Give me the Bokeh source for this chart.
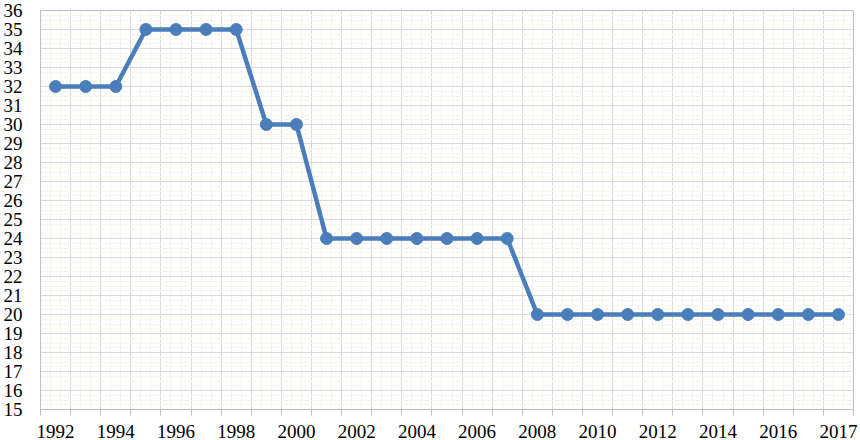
from bokeh.plotting import figure
from bokeh.models import FixedTicker, Range1d, ColumnDataSource
from bokeh.embed import file_html
from bokeh.resources import INLINE

# ---- data ----
values = [32, 32, 32, 35, 35, 35, 35, 30, 30, 24, 24, 24, 24, 24, 24, 24,
          20, 20, 20, 20, 20, 20, 20, 20, 20, 20, 20]
tick_labels = ["1992", "1994", "1996", "1998", "2000", "2002", "2004",
               "2006", "2008", "2010", "2012", "2014", "2016", "2017"]
y_ticks = list(range(15, 37))

n = len(values)
xs = list(range(n))
src = ColumnDataSource(data=dict(x=xs, y=values))

FONT = "Liberation Serif"
GRID = "#d9d9d9"
AXIS = "#bfbfbf"
BLUE = "#4A7EBB"

p = figure(width=860, height=440, output_backend="svg", toolbar_location=None,
           x_range=Range1d(-0.5, n - 0.5), y_range=Range1d(15, 36),
           min_border_left=39, min_border_right=7, min_border_top=10,
           min_border_bottom=0)
p.background_fill_color = "white"
p.border_fill_color = "white"
p.outline_line_color = AXIS

# x axis: labels at category centres, tick marks at category boundaries
label_pos = [2 * i for i in range(len(tick_labels))]
bounds = [i - 0.5 for i in range(n + 1)]
p.xaxis.ticker = FixedTicker(ticks=label_pos, minor_ticks=bounds)
p.xaxis.major_label_overrides = {pos: lab for pos, lab in zip(label_pos, tick_labels)}
p.xaxis.major_tick_out = 0
p.xaxis.major_tick_in = 0
p.xaxis.minor_tick_out = 6
p.xaxis.minor_tick_in = 0
p.xaxis.minor_tick_line_color = AXIS
p.xaxis.axis_line_color = AXIS
p.xaxis.major_label_standoff = 9
p.xaxis.major_label_text_font = FONT
p.xaxis.major_label_text_font_size = "19px"
p.xaxis.major_label_text_color = "black"

# y axis
p.yaxis.ticker = FixedTicker(ticks=y_ticks)
p.yaxis.major_tick_out = 0
p.yaxis.major_tick_in = 0
p.yaxis.minor_tick_line_color = None
p.yaxis.axis_line_color = AXIS
p.yaxis.major_label_standoff = 18
p.yaxis.major_label_text_font = FONT
p.yaxis.major_label_text_font_size = "19px"
p.yaxis.major_label_text_color = "black"

# grids
minor_x = []
for b in bounds[:-1]:
    minor_x += [b + 1 / 3, b + 2 / 3]
p.xgrid.ticker = FixedTicker(ticks=bounds, minor_ticks=minor_x)
p.xgrid.grid_line_color = GRID
p.xgrid.minor_grid_line_color = "#f3f3ef"

minor_y = [15 + k * 0.25 for k in range(0, 85)]
p.ygrid.ticker = FixedTicker(ticks=y_ticks, minor_ticks=minor_y)
p.ygrid.grid_line_color = GRID
p.ygrid.minor_grid_line_color = "#f6f6ea"

p.line("x", "y", source=src, line_color=BLUE, line_width=4.5)
p.scatter("x", "y", source=src, size=12, fill_color=BLUE, line_color=BLUE)

open("out.html", "w").write(file_html(p, INLINE))
